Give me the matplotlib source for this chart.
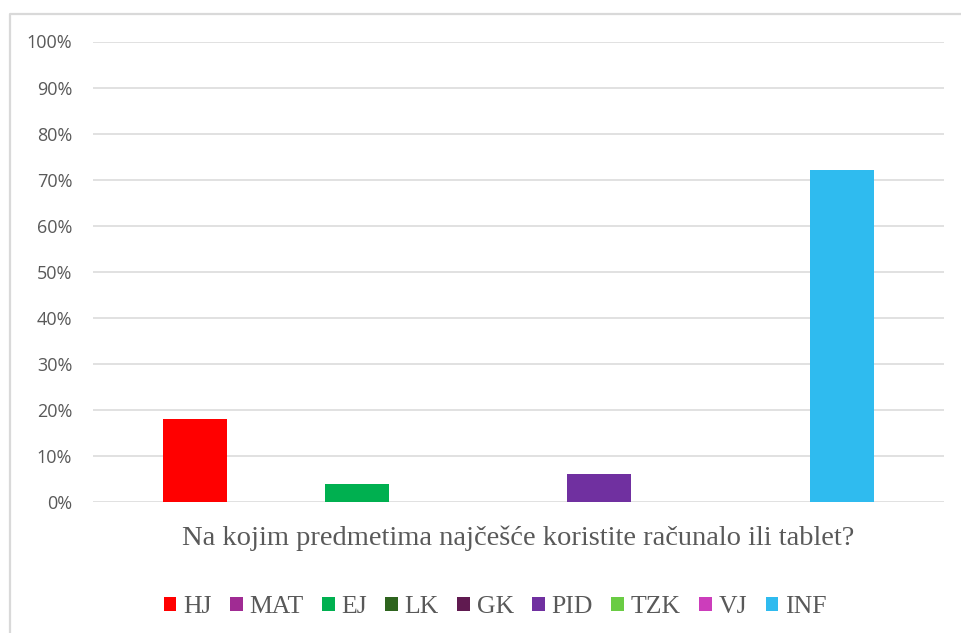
import matplotlib.pyplot as plt
from matplotlib.lines import Line2D
from matplotlib.ticker import PercentFormatter

# --- Daten ---
predmeti = ["HJ", "MAT", "EJ", "LK", "GK", "PID", "TZK", "VJ", "INF"]
udjeli = [0.18, 0.0, 0.04, 0.0, 0.0, 0.06, 0.0, 0.0, 0.72]
boje = ["#FF0000", "#A02B93", "#00B050", "#2E641E", "#601A50",
        "#7030A0", "#6ACC44", "#CC3DBB", "#2FBBEF"]
y_ticks = [0.0, 0.1, 0.2, 0.3, 0.4, 0.5, 0.6, 0.7, 0.8, 0.9, 1.0]
naslov_x = "Na kojim predmetima najčešće koristite računalo ili tablet?"

W, H = 961, 633
fig = plt.figure(figsize=(W / 100, H / 100), dpi=100)
ax = fig.add_axes([93 / W, 1 - 502 / H, (944 - 93) / W, (502 - 41.5) / H])

# okvir grafikona (lijevo i gore)
fig.add_artist(Line2D([10 / W, 10 / W, 1.0], [0.0, 1 - 14 / H, 1 - 14 / H],
                      transform=fig.transFigure, color="#d9d9d9", lw=1.6))

pozicije = list(range(len(predmeti)))
for p, v, c, naziv in zip(pozicije, udjeli, boje, predmeti):
    ax.bar(p, v, width=0.79, color=c, label=naziv, zorder=3)

ax.set_xlim(-1.26, 9.26)
ax.set_ylim(0, 1)
ax.set_yticks(y_ticks)
ax.yaxis.set_major_formatter(PercentFormatter(1.0, decimals=0))
ax.grid(axis="y", color="#d9d9d9", lw=1.1, zorder=0)
ax.set_xticks([])
for s in ax.spines.values():
    s.set_visible(False)
ax.tick_params(axis="y", length=0, pad=15, labelsize=13, labelcolor="#595959")
for t in ax.get_yticklabels():
    t.set_fontfamily("Open Sans")

ax.set_xlabel(naslov_x, fontsize=20.5, family="Liberation Serif",
              color="#595959", labelpad=17)

fig.legend(loc="center", bbox_to_anchor=(495 / W, 1 - 607 / H), ncol=9,
           frameon=False, prop={"family": "Liberation Serif", "size": 18.5},
           labelcolor="#595959", handlelength=0.5, handleheight=0.5,
           handletextpad=0.25, columnspacing=0.72)

plt.savefig("out.png", dpi=100)
